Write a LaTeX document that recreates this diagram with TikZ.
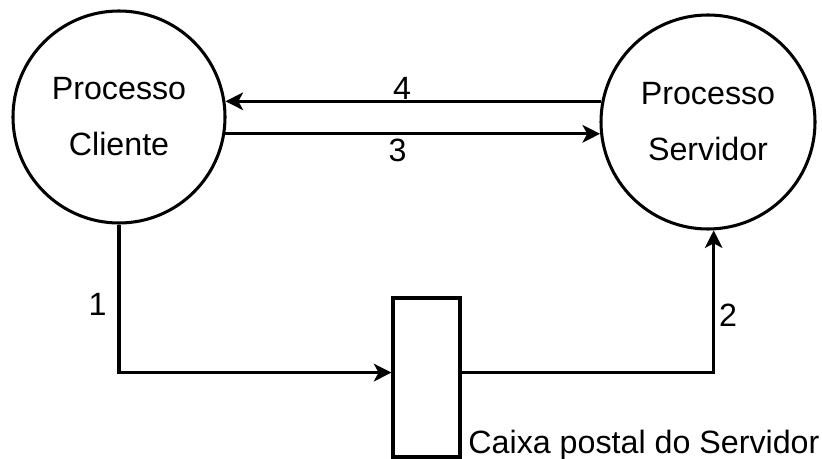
\documentclass[tikz,border=0pt]{standalone}
\usepackage{fontspec}
\setmainfont{Liberation Sans}
\usepackage{tikz}
\usetikzlibrary{shapes.geometric, arrows.meta}
\tikzstyle{proc} = [circle, draw=black, line width=2.6pt, inner sep=0pt, minimum size=6.36cm, align=center, font=\fontsize{27.5}{47.8}\selectfont]
\tikzstyle{caixabox} = [rectangle, draw=black, line width=2.6pt, inner sep=0pt, minimum width=2.01cm, minimum height=4.77cm]
\tikzstyle{arrow} = [line width=2.6pt, -{Stealth[length=15pt, width=15pt, inset=4pt]}]
\tikzstyle{rotulo} = [font=\fontsize{27.5}{33}\selectfont]

\begin{document}
\begin{tikzpicture}[x=0.03cm, y=-0.03cm]
\useasboundingbox (0,0) rectangle (822,459);

% processos e caixa postal
\node[proc] (cliente) at (119,117) {Processo\\Cliente};
\node[proc, minimum size=6.42cm] (servidor) at (708,122) {Processo\\Servidor};
\node[caixabox] (caixa) at (426.5,377.5) {};
\node[rotulo, anchor=base west, inner sep=0pt] (legenda) at ([xshift=0.2cm, yshift=0.15cm]caixa.south east) {Caixa postal do Servidor};

% mensagens
\draw[arrow] (servidor.169) -- node[rotulo, above, pos=0.53, yshift=-0.12cm] {4} (servidor.169 -| cliente.8);
\draw[arrow] (cliente.351) -- node[rotulo, below, pos=0.46] {3} (cliente.351 -| servidor.186);
\draw[arrow] (cliente.south) |- node[rotulo, left, pos=0.27, xshift=-0.21cm] {1} (caixa.172);
\draw[arrow] (caixa.8) -| node[rotulo, right, pos=0.7] {2} (servidor.273);
\end{tikzpicture}
\end{document}
